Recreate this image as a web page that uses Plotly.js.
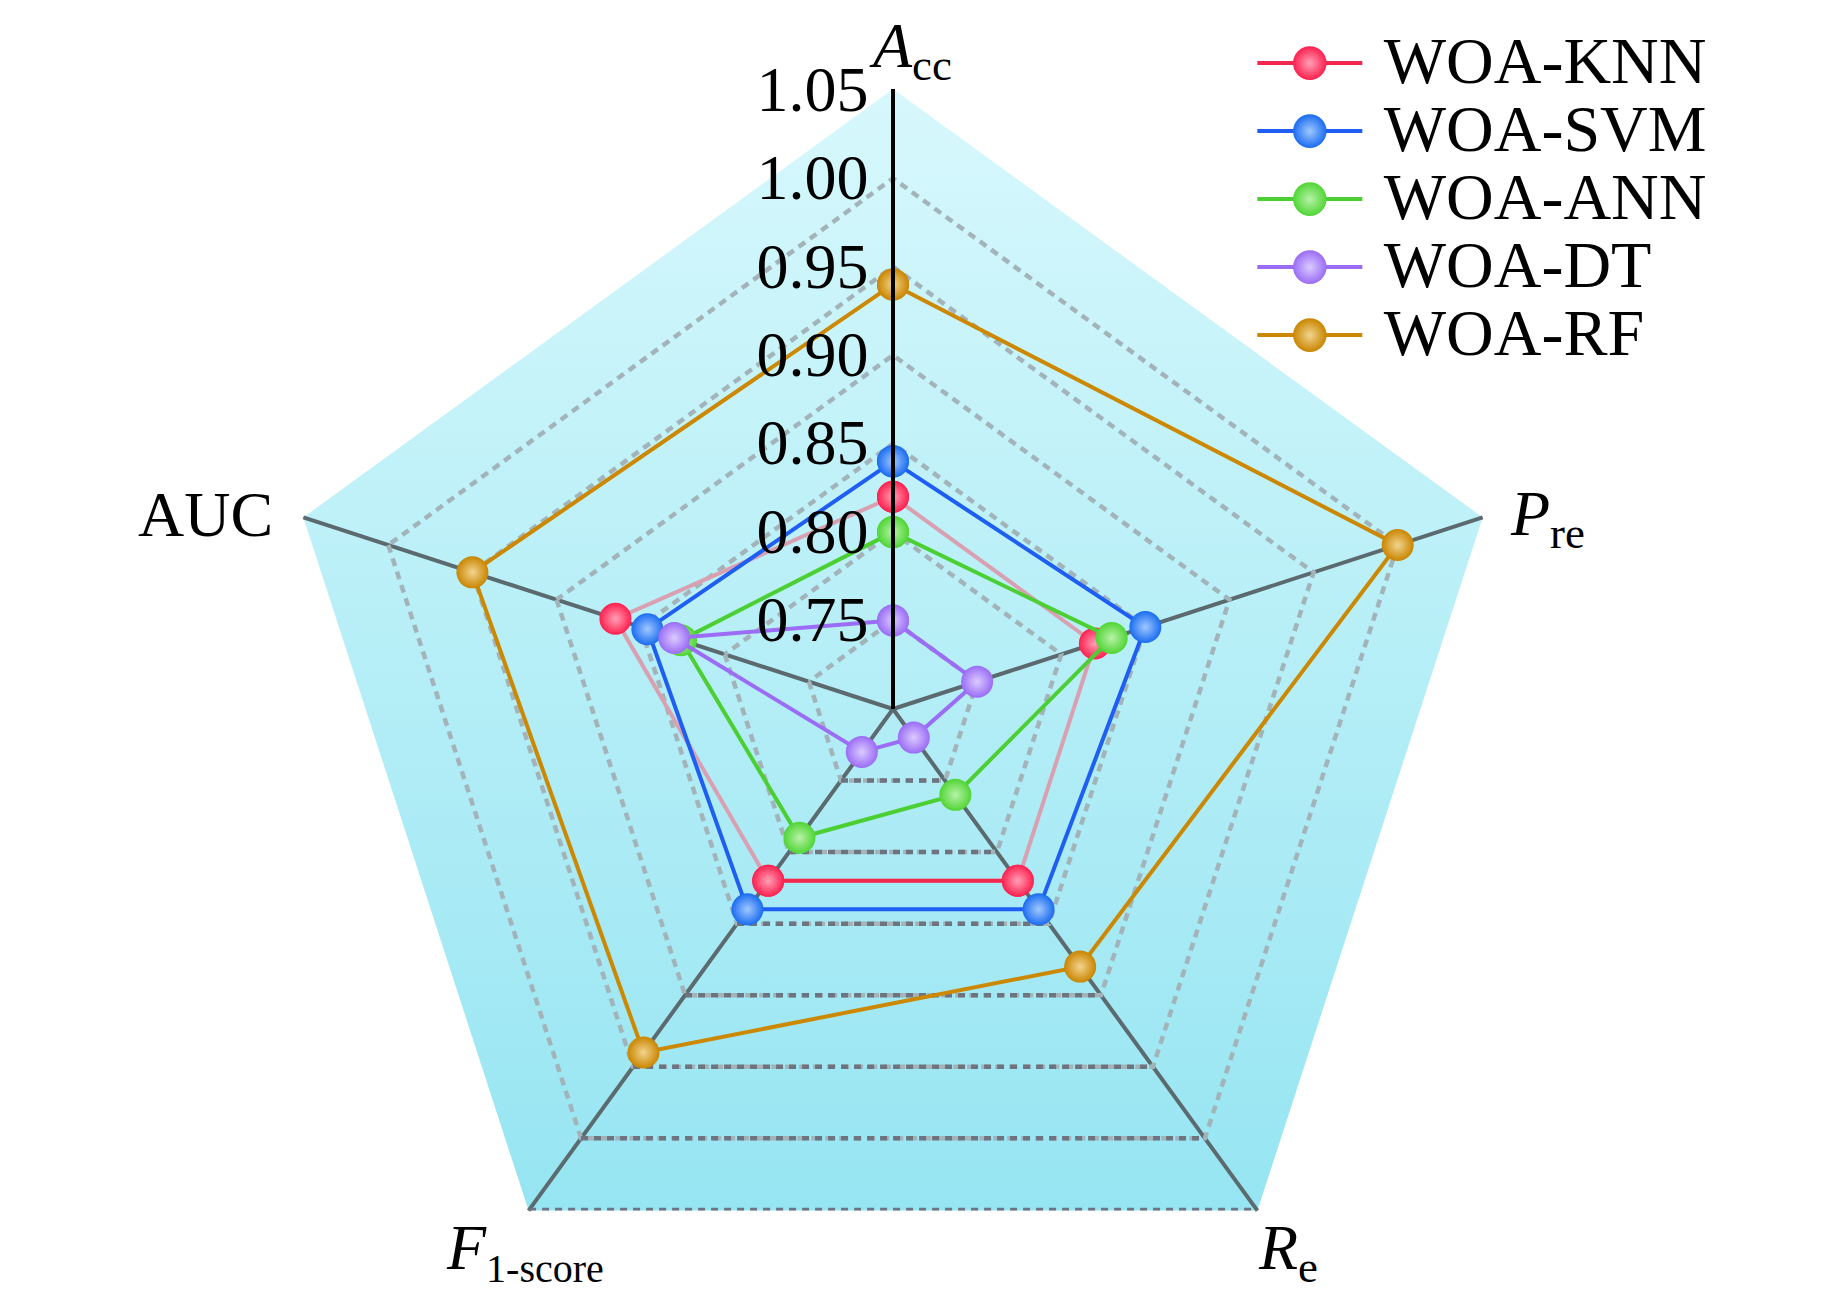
<!DOCTYPE html>
<html>
<head>
<meta charset="utf-8">
<script src="https://cdn.plot.ly/plotly-3.0.1.min.js"></script>
<style>
html,body{margin:0;padding:0;background:#fff;overflow:hidden;}
#chart{width:1843px;height:1340px;}
</style>
</head>
<body>
<div id="chart"></div>
<script>
// ---- data ----
const categories = ['Acc', 'Pre', 'Re', 'F1-score', 'AUC'];
const axisLabels = ['<i>A</i><sub>cc</sub>', '<i>P</i><sub>re</sub>', '<i>R</i><sub>e</sub>',
                    '<i>F</i><sub><span style="font-size:40px">1-score</span></sub>', 'AUC'];
const seriesNames = ['WOA-KNN', 'WOA-SVM', 'WOA-ANN', 'WOA-DT', 'WOA-RF'];
const knn = [0.82, 0.82, 0.82, 0.82, 0.865];
const svm = [0.84, 0.85, 0.84, 0.84, 0.846];
const ann = [0.80, 0.83, 0.76, 0.79, 0.826];
const dt  = [0.75, 0.75, 0.72, 0.73, 0.830];
const rf  = [0.94, 1.00, 0.88, 0.94, 0.95];
const radialTicks = [0.75, 0.80, 0.85, 0.90, 0.95, 1.00, 1.05];
const radialRange = [0.70, 1.0505];

// ---- styles ----
const markerColors = ['#ff1f4e', '#1a6cf0', '#50d535', '#9a6cf6', '#c98500'];
const lineColors   = ['#f2294f', '#1e5ef2', '#4ccf33', '#9b6cf5', '#cc8800'];
const tintColors   = ['#ffa0b6', '#a0c8ff', '#b8f2a8', '#dccbff', '#f2d48e'];
const knnSoftLine = '#d9a0b2';
const serif = 'Liberation Serif, Times New Roman, serif';

function closed(arr){ return arr.concat([arr[0]]); }
const thetaClosed = closed(categories);

const traces = [];

// darker dashed bottom grid edges (between F1-score and Re spokes), from tick values
const edgeR = [], edgeT = [];
radialTicks.forEach(v => { edgeR.push(v, v, null); edgeT.push(categories[3], categories[2], null); });
traces.push({
  type: 'scatterpolar', r: edgeR, theta: edgeT, mode: 'lines',
  line: {color: '#6d7480', width: 4.5, dash: '7px,6px'},
  showlegend: false, hoverinfo: 'skip', connectgaps: false
});

function mk(i, size){
  return {size: size, color: markerColors[i], gradient: {type: 'radial', color: tintColors[i]}, line: {width: 0}};
}
function legendName(s){ return '<span style="font-size:66px">\u00a0' + s + '</span>'; }

// KNN: soft outline loop (no legend)
traces.push({
  type: 'scatterpolar', r: closed(knn), theta: thetaClosed, mode: 'lines+markers',
  line: {color: knnSoftLine, width: 4}, marker: mk(0, 32),
  showlegend: false, legendgroup: 'knn', name: seriesNames[0]
});
// KNN: F1-score -> Re segment in full colour (legend entry)
traces.push({
  type: 'scatterpolar', r: [knn[3], knn[2]], theta: [categories[3], categories[2]], mode: 'lines+markers',
  line: {color: lineColors[0], width: 4}, marker: mk(0, 32),
  showlegend: true, legendgroup: 'knn', name: legendName(seriesNames[0])
});

const others = [svm, ann, dt, rf];
others.forEach((vals, j) => {
  const i = j + 1;
  traces.push({
    type: 'scatterpolar', r: closed(vals), theta: thetaClosed, mode: 'lines+markers',
    line: {color: lineColors[i], width: 4}, marker: mk(i, 32),
    name: legendName(seriesNames[i])
  });
});

// geometry of the polar area
const W = 1843, H = 1340;
const cx = 893, cy = 709, R = 620;
const dx0 = (cx - R) / W, dx1 = (cx + R) / W;
const dy0 = (H - (cy + R)) / H, dy1 = (H - (cy - R)) / H;

// background pentagon with vertical gradient
const pts = [];
for (let k = 0; k < 5; k++) {
  const a = (90 - 72 * k) * Math.PI / 180;
  pts.push((Math.cos(a)).toFixed(5) + ',' + (-Math.sin(a)).toFixed(5));
}
const svg = '<svg xmlns="http://www.w3.org/2000/svg" viewBox="-1 -1 2 2" preserveAspectRatio="none">' +
  '<defs><linearGradient id="g" x1="0" y1="0" x2="0" y2="1">' +
  '<stop offset="0" stop-color="#d7f8fc"/><stop offset="1" stop-color="#96e5f2"/></linearGradient></defs>' +
  '<polygon points="' + pts.join(' ') + '" fill="url(#g)"/></svg>';
const bgSrc = 'data:image/svg+xml;base64,' + btoa(svg);

// axis label positions (pixels from top-left)
const labelPos = [[867, 50], [1508, 518], [1256, 1252], [444, 1251], [136, 515]];
const annotations = axisLabels.map((t, i) => ({
  text: t, xref: 'paper', yref: 'paper', showarrow: false,
  x: labelPos[i][0] / W, y: 1 - labelPos[i][1] / H, xanchor: 'left', yanchor: 'middle',
  font: {family: serif, size: 64, color: '#000'}
}));

const layout = {
  width: W, height: H,
  margin: {l: 0, r: 0, t: 0, b: 0},
  paper_bgcolor: '#ffffff',
  font: {family: serif, color: '#000', size: 64},
  showlegend: true,
  legend: {
    x: 0.6795, y: 0.982, xanchor: 'left', yanchor: 'top',
    bgcolor: 'rgba(0,0,0,0)', font: {family: serif, size: 50, color: '#000'},
    itemwidth: 105, traceorder: 'normal'
  },
  annotations: annotations,
  images: [{
    source: bgSrc, xref: 'paper', yref: 'paper',
    x: dx0, y: dy1, sizex: dx1 - dx0, sizey: dy1 - dy0,
    xanchor: 'left', yanchor: 'top', sizing: 'stretch', layer: 'below'
  }],
  polar: {
    domain: {x: [dx0, dx1], y: [dy0, dy1]},
    bgcolor: 'rgba(0,0,0,0)',
    gridshape: 'linear',
    layer: 'below traces',
    radialaxis: {
      range: radialRange, tickvals: radialTicks, ticktext: radialTicks.map(v => v.toFixed(2)),
      angle: 90, side: 'counterclockwise', tickangle: 90,
      showline: true, linecolor: '#000', linewidth: 4,
      ticks: '', showgrid: true, gridcolor: '#a2b4b9', gridwidth: 4.5, griddash: '8px,6px',
      tickfont: {family: serif, size: 64, color: '#000'}
    },
    angularaxis: {
      direction: 'clockwise', rotation: 90, type: 'category', categoryarray: categories,
      showline: false, ticks: '', showticklabels: false,
      showgrid: true, gridcolor: '#5b6a6e', gridwidth: 4
    }
  }
};

Plotly.newPlot('chart', traces, layout, {displayModeBar: false, staticPlot: true}).then(gd => {
  // enlarge legend symbols (Plotly caps legend marker size)
  gd.querySelectorAll('.legend .legendpoints path.scatterpts').forEach(p => {
    const t = p.getAttribute('transform') || '';
    p.setAttribute('transform', t + ' scale(2.1)');
  });
});
</script>
</body>
</html>
